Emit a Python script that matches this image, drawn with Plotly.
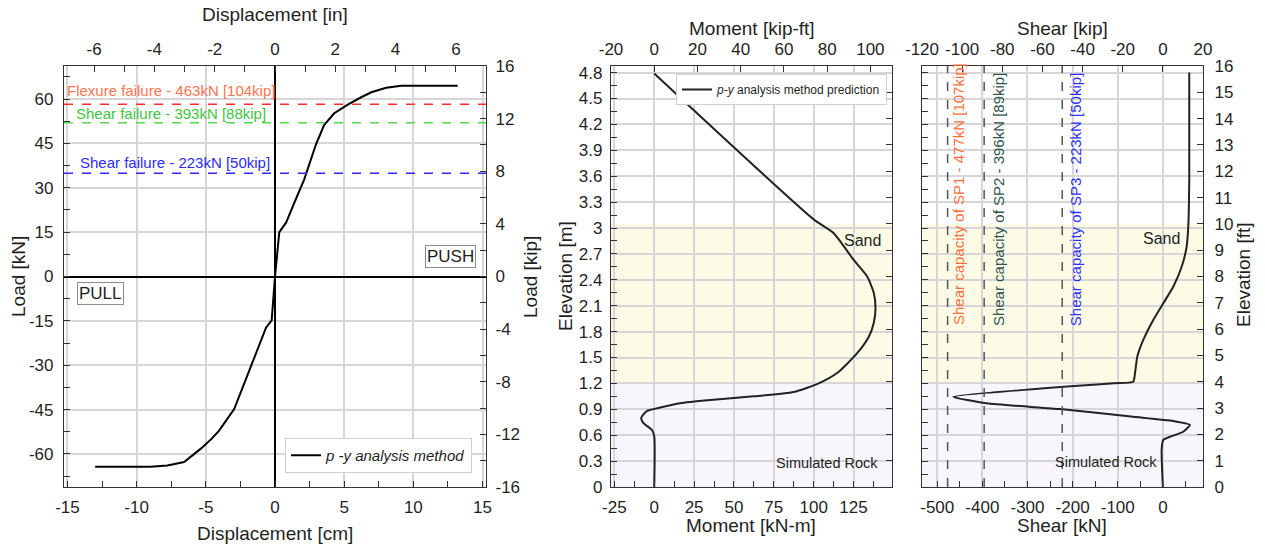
import plotly.graph_objects as go

W, H = 1265, 548
FONT = "Arial, Liberation Sans, sans-serif"
INK = "#1f1f1f"
GRID = "#d6d6d6"

# ---- Load vs displacement (p-y analysis) ----
disp_cm = [-13.0, -9.0, -7.78, -6.57, -5.36, -4.59, -4.04, -2.95, -2.1, -0.65, -0.24, 0.0,
           0.31, 0.8, 1.4, 2.1, 2.97, 3.55, 4.28, 5.29, 6.23, 6.96, 8.04, 9.13, 13.2]
load_kn = [-64.3, -64.3, -63.9, -62.7, -58.2, -54.9, -52.1, -44.8, -34.7, -17.3, -14.8, 0.0,
           15.0, 18.2, 25.0, 32.7, 44.8, 51.2, 55.2, 58.2, 60.6, 62.3, 63.8, 64.5, 64.5]

failure_text = ["Flexure failure - 463kN [104kip]",
                "Shear failure - 393kN [88kip]",
                "Shear failure - 223kN [50kip]"]
failure_line_kn = [58.2, 52.0, 34.9]
failure_line_colors = ["#ff2a2a", "#55d655", "#2b2bff"]
failure_text_colors = ["#ff7450", "#3fc43f", "#2b2bff"]

# ---- Moment profile ----
moment_knm = [0.0, 100.0, 112.6, 125.1, 133.5, 137.7, 138.8, 137.7, 134.6, 127.3, 114.7,
              103.1, 87.5, 62.3, 37.2, 16.3, 3.8, -4.6, -8.2, -6.7, -1.4, 0.0, 0.0]
moment_elev_m = [4.79, 3.10, 2.94, 2.63, 2.44, 2.25, 2.07, 1.90, 1.74, 1.55, 1.32,
                 1.20, 1.10, 1.05, 1.01, 0.97, 0.92, 0.88, 0.80, 0.74, 0.66, 0.59, 0.0]

# ---- Shear profile ----
shear_kn = [58.5, 58.5, 56.3, 52.7, 41.7, 23.0, 0.9, -21.3, -43.4, -56.7, -61.8, -65.6,
            -109.9, -464.5, -390.6, -228.0, -65.6, 23.0, 60.0, 45.2, 15.7, 0.9, -2.7, 0.0]
shear_elev_ft = [15.75, 11.67, 9.89, 9.13, 8.37, 7.61, 6.98, 6.35, 5.59, 4.95, 4.32, 4.00,
                 3.94, 3.43, 3.18, 2.96, 2.67, 2.51, 2.36, 2.10, 1.91, 1.79, 1.41, 0.0]

capacity_kn = [-477, -396, -223]
capacity_text = ["Shear capacity of SP1 - 477kN [107kip]",
                 "Shear capacity of SP2 - 396kN [89kip]",
                 "Shear capacity of SP3 - 223kN [50kip]"]
capacity_colors = ["#ff6e3c", "#2f5252", "#3030ff"]

# soil layers (elevation in ft)
sand_ft = [4, 10]
rock_ft = [0, 4]
FT = 0.3048
KIP_KN = 4.448
KIPFT_KNM = 1.35582

# tick values
cm_ticks = [-15, -10, -5, 0, 5, 10, 15]
in_ticks = [-6, -4, -2, 0, 2, 4, 6]
load_kn_ticks = [-60, -45, -30, -15, 0, 15, 30, 45, 60]
load_kip_ticks = [-16, -12, -8, -4, 0, 4, 8, 12, 16]
moment_knm_ticks = [-25, 0, 25, 50, 75, 100, 125]
moment_kipft_ticks = [-20, 0, 20, 40, 60, 80, 100]
shear_kn_ticks = [-500, -400, -300, -200, -100, 0]
shear_kip_ticks = [-120, -100, -80, -60, -40, -20, 0, 20]
elev_m_labels = ["0", "0.3", "0.6", "0.9", "1.2", "1.5", "1.8", "2.1", "2.4", "2.7",
                 "3", "3.3", "3.6", "3.9", "4.2", "4.5", "4.8"]
elev_ft_ticks = list(range(0, 17))


def px(x):
    return x / W


def py(y):
    return 1 - y / H


ydom = [py(487), py(66)]


def ax(vals=None, labels=None, standoff=4, **kw):
    base = dict(showline=True, linecolor="#333333", linewidth=1.2, ticks="inside", ticklen=6,
                tickwidth=1, tickcolor="#333333", showgrid=False, zeroline=False,
                automargin=False, ticklabelstandoff=standoff,
                tickfont=dict(family=FONT, size=17, color=INK))
    if vals is not None:
        base.update(tickmode="array", tickvals=vals,
                    ticktext=labels if labels is not None else [str(v) for v in vals])
    base.update(kw)
    return base


def minor(d):
    return dict(tickmode="linear", tick0=0, dtick=d, ticks="inside", ticklen=6, tickwidth=1,
                tickcolor="#333333", showgrid=False)


gridkw = dict(showgrid=True, gridcolor=GRID, gridwidth=1.5)

fig = go.Figure()

fig.add_trace(go.Scatter(x=disp_cm, y=load_kn, xaxis="x", yaxis="y", mode="lines",
                         line=dict(color="black", width=2), name="p -y analysis method",
                         legend="legend"))
fig.add_trace(go.Scatter(x=moment_knm, y=moment_elev_m, xaxis="x3", yaxis="y3", mode="lines",
                         line=dict(color="#222222", width=2, shape="spline", smoothing=0.6),
                         name="<i>p-y</i> analysis method prediction", legend="legend2"))
fig.add_trace(go.Scatter(x=shear_kn, y=[v * FT for v in shear_elev_ft], xaxis="x5", yaxis="y5",
                         mode="lines",
                         line=dict(color="#222222", width=2, shape="spline", smoothing=0.5),
                         showlegend=False))
# empty traces so the secondary (top / right) axes get drawn
for xa, ya in (("x2", "y"), ("x", "y2"), ("x4", "y3"), ("x3", "y4"), ("x6", "y5"), ("x5", "y6")):
    fig.add_trace(go.Scatter(x=[], y=[], xaxis=xa, yaxis=ya, mode="lines",
                             showlegend=False, hoverinfo="skip"))

layout = dict(
    width=W, height=H, margin=dict(l=0, r=0, t=0, b=0, pad=0), autosize=False,
    paper_bgcolor="white", plot_bgcolor="white",
    font=dict(family=FONT, color=INK),
    # load-displacement panel
    xaxis=ax(cm_ticks, domain=[px(64), px(486)], anchor="y", range=[-15.25, 15.25],
             minor=minor(2.5), zeroline=True, zerolinecolor="black", zerolinewidth=1.5,
             **gridkw),
    yaxis=ax(load_kn_ticks, standoff=6, domain=ydom, anchor="x",
             range=[-16 * KIP_KN, 16 * KIP_KN], minor=minor(7.5),
             zeroline=True, zerolinecolor="black", zerolinewidth=1.5, **gridkw),
    xaxis2=ax(in_ticks, standoff=3, overlaying="x", side="top", anchor="y", range=[-7, 7],
              minor=minor(1)),
    yaxis2=ax(load_kip_ticks, standoff=5, overlaying="y", side="right", anchor="x",
              range=[-16, 16], minor=minor(2)),
    # moment panel
    xaxis3=ax(moment_knm_ticks, domain=[px(611), px(892)], anchor="y3",
              range=[-20 * KIPFT_KNM, 110 * KIPFT_KNM], minor=minor(12.5), **gridkw),
    yaxis3=ax([0.3 * i for i in range(17)], elev_m_labels, standoff=4, domain=ydom,
              anchor="x3", range=[0, 16 * FT], minor=minor(0.15), **gridkw),
    xaxis4=ax(moment_kipft_ticks, standoff=3, overlaying="x3", side="top", anchor="y3",
              range=[-20, 110]),
    yaxis4=ax(elev_ft_ticks, overlaying="y3", side="right", anchor="x3", range=[0, 16],
              showticklabels=False),
    # shear panel
    xaxis5=ax(shear_kn_ticks, domain=[px(922), px(1203)], anchor="y5",
              range=[-120 * KIP_KN, 20 * KIP_KN], minor=minor(50), **gridkw),
    yaxis5=ax([0.3 * i for i in range(17)], elev_m_labels, domain=ydom, anchor="x5",
              range=[0, 16 * FT], minor=minor(0.15), showticklabels=False, **gridkw),
    xaxis6=ax(shear_kip_ticks, standoff=3, overlaying="x5", side="top", anchor="y5",
              range=[-120, 20]),
    yaxis6=ax(elev_ft_ticks, standoff=7, overlaying="y5", side="right", anchor="x5",
              range=[0, 16]),
    legend=dict(x=px(472), xanchor="right", y=py(473), yanchor="bottom", bgcolor="white",
                bordercolor="#cfcfcf", borderwidth=1,
                font=dict(family=FONT, size=15, style="italic", color=INK), itemwidth=30),
    legend2=dict(x=px(887), xanchor="right", y=py(74), yanchor="top", bgcolor="white",
                 bordercolor="#cfcfcf", borderwidth=1,
                 font=dict(family=FONT, size=12, color=INK), itemwidth=30),
)
fig.update_layout(**layout)

shapes = []
for v, c in zip(failure_line_kn, failure_line_colors):
    shapes.append(dict(type="line", xref="x domain", x0=0, x1=1, yref="y", y0=v, y1=v,
                       line=dict(color=c, width=1.5, dash="dash")))
for xa, ya in (("x3", "y3"), ("x5", "y5")):
    shapes.append(dict(type="rect", xref=f"{xa} domain", x0=0, x1=1, yref=ya,
                       y0=sand_ft[0] * FT, y1=sand_ft[1] * FT, fillcolor="#fcfce6",
                       line=dict(width=0), layer="below"))
    shapes.append(dict(type="rect", xref=f"{xa} domain", x0=0, x1=1, yref=ya,
                       y0=rock_ft[0] * FT, y1=rock_ft[1] * FT, fillcolor="#f8f6fc",
                       line=dict(width=0), layer="below"))
for v in capacity_kn:
    shapes.append(dict(type="line", xref="x5", x0=v, x1=v, yref="y5 domain", y0=0, y1=1,
                       line=dict(color="#555555", width=1.5, dash="dash")))
fig.update_layout(shapes=shapes)

ann = []
CENTER = dict(xanchor="center", yanchor="middle", showarrow=False)
fail_pos = [(-7.5, 63.0), (-7.5, 55.2), (-7.2, 38.7)]
for (x, y), t, c in zip(fail_pos, failure_text, failure_text_colors):
    ann.append(dict(x=x, y=y, xref="x", yref="y", text=t,
                    font=dict(family=FONT, size=15, color=c), **CENTER))
for x, y, t in ((12.7, 6.9, "PUSH"), (-12.6, -5.9, "PULL")):
    ann.append(dict(x=x, y=y, xref="x", yref="y", text=t, bgcolor="white",
                    bordercolor="#8c8c8c", borderwidth=1, borderpad=1,
                    font=dict(family=FONT, size=17, color=INK), **CENTER))
ann.append(dict(x=130.8, y=2.86, xref="x3", yref="y3", text="Sand",
                font=dict(family=FONT, size=16, color=INK), **CENTER))
ann.append(dict(x=108.3, y=0.275, xref="x3", yref="y3", text="Simulated Rock",
                font=dict(family=FONT, size=14.5, color=INK), **CENTER))
ann.append(dict(x=-2.7, y=9.45 * FT, xref="x5", yref="y5", text="Sand",
                font=dict(family=FONT, size=16, color=INK), **CENTER))
ann.append(dict(x=-126.5, y=0.96 * FT, xref="x5", yref="y5", text="Simulated Rock",
                font=dict(family=FONT, size=14.5, color=INK), **CENTER))
cap_shift = [11, 15, 14]
cap_y = [11.12, 10.91, 10.91]
for v, t, c, s, yy in zip(capacity_kn, capacity_text, capacity_colors, cap_shift, cap_y):
    ann.append(dict(x=v, y=yy * FT, xref="x5", yref="y5", text=t, textangle=-90, xshift=s,
                    font=dict(family=FONT, size=15, color=c), **CENTER))

titles = [
    ("Displacement [in]", 275, 15, 0), ("Displacement [cm]", 275, 533, 0),
    ("Load [kN]", 18, 277, -90), ("Load [kip]", 530, 277, -90),
    ("Moment [kip-ft]", 752, 28, 0), ("Moment [kN-m]", 751, 525, 0),
    ("Elevation [m]", 565, 276, -90),
    ("Shear [kip]", 1062, 28, 0), ("Shear [kN]", 1062, 525, 0),
    ("Elevation [ft]", 1243, 275, -90),
]
for t, x, y, a in titles:
    ann.append(dict(x=px(x), y=py(y), xref="paper", yref="paper", text=t, textangle=a,
                    font=dict(family=FONT, size=19, color=INK), **CENTER))
fig.update_layout(annotations=ann)

fig.write_html("out.html")
